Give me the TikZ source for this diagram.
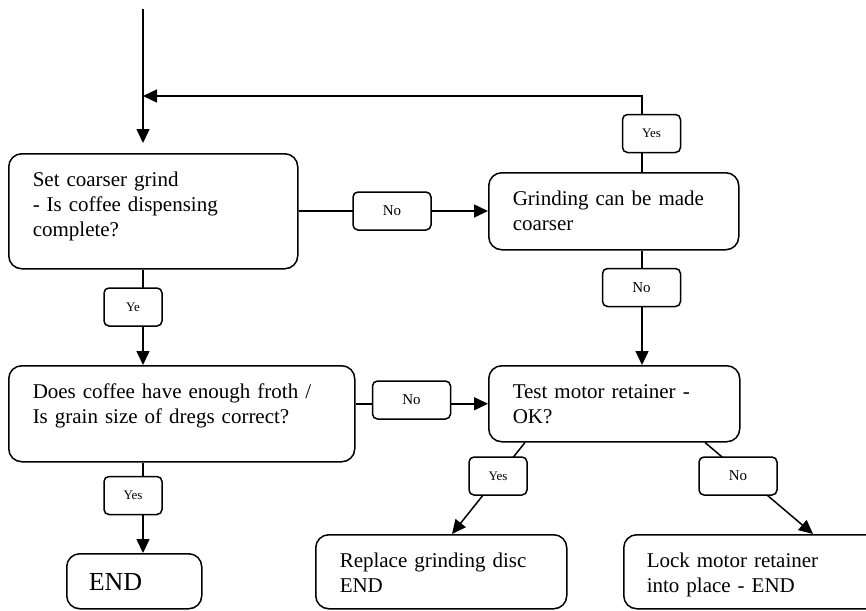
\documentclass[tikz,border=0pt]{standalone}
\usepackage{fontspec}
\setmainfont{Liberation Serif}
\usetikzlibrary{arrows.meta}

\begin{document}
\begin{tikzpicture}[
  x=1pt, y=-1pt,
  >={Triangle[length=14pt, width=13pt]},
  line width=1.5pt,
  box/.style={draw, rounded corners=13pt, anchor=north west, align=left, inner xsep=24pt, inner ysep=0pt, text height=33pt, font=\fontsize{21pt}{25pt}\selectfont},
  lab/.style={draw, fill=white, rounded corners=5pt, inner sep=0pt, minimum height=38pt},
  yeslab/.style={lab, minimum width=58pt, font=\fontsize{13pt}{15pt}\selectfont},
  nolab/.style={lab, minimum width=78pt, font=\fontsize{15pt}{17pt}\selectfont}
]
\useasboundingbox (0,0) rectangle (866,610);
\clip (0,0) rectangle (866,610);

% Boxes
\node[box, text width=241pt, text depth=82pt] (set) at (8,153) {Set coarser grind\\- Is coffee dispensing\\complete?};
\node[box, text width=202pt, text depth=44pt] (grind) at (488,172) {Grinding can be made\\coarser};
\node[box, text width=298pt, text depth=63pt] (froth) at (8,365) {Does coffee have enough froth /\\Is grain size of dregs correct?};
\node[box, text width=203pt, text depth=43pt] (motor) at (488,365) {Test motor retainer -\\OK?};
\node[box, text width=203pt, text depth=41pt] (disc) at (315,534) {Replace grinding disc\\END};
\node[box, text width=212pt, text depth=41pt, inner xsep=23pt] (lock) at (623,534) {Lock motor retainer\\into place - END};
\node[box, text width=91pt, text height=37pt, text depth=18pt, inner xsep=22pt, font=\fontsize{26pt}{30pt}\selectfont] (endbox) at (66,553) {END};

\coordinate (top) at (143,9);
\coordinate (fb) at (642,96);
\coordinate (mid) at (400,211);

% Connectors
\draw[->, shorten >=10pt] (top) -- (set.north -| top);
\draw[->] (grind.north -| fb) -- (fb) -- (fb -| top);
\draw[->] (set.east |- mid) -- (grind.west |- mid);
\draw[->] (grind.south -| fb) -- (motor.north -| fb);
\draw[->] (set.south -| top) -- (froth.north -| top);
\draw[->] (froth.east |- motor.west) -- (motor.west);
\draw[->] (froth.south -| top) -- (endbox.north -| top);
\draw[->] ([xshift=37pt]motor.south west) -- ([xshift=137pt]disc.north west);
\draw[->] ([xshift=217pt]motor.south west) -- ([xshift=190pt]lock.north west);

% Labels
\node[yeslab] (yesup) at (651.5,133.5) {Yes};
\node[nolab] (noa) at (392,211) {No};
\node[nolab] (nob) at (641.5,287.5) {No};
\node[yeslab] (ye) at (133,307) {Ye};
\node[nolab] (noc) at (411.5,400) {No};
\node[yeslab] (yesd) at (133,495.5) {Yes};
\node[yeslab] (yese) at (498,476) {Yes};
\node[nolab] (nof) at (738,476) {No};
\end{tikzpicture}
\end{document}
